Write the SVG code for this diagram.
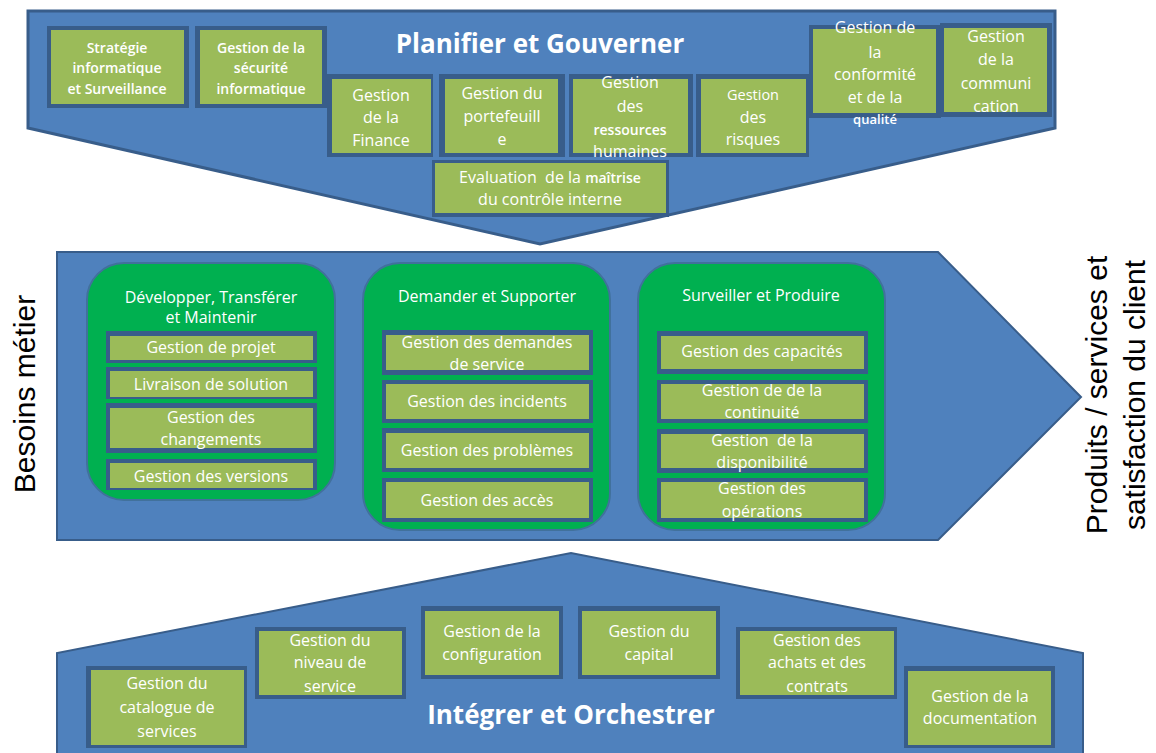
<svg xmlns="http://www.w3.org/2000/svg" width="1156" height="753" viewBox="0 0 1156 753">
<style>
.band{fill:#4F81BD;stroke:#385D8A;stroke-width:2}
.bandtop{fill:#4F81BD;stroke:#385D8A;stroke-width:3}
.frame{fill:#385D8A}
.cell{fill:#9BBB59}
.pill{fill:#00B050;stroke:#41719C;stroke-width:2}
text{font-family:"Open Sans","Noto Sans",sans-serif;fill:#FFFFFF;text-anchor:middle;font-size:16px}
.s{font-size:14px;font-weight:600}
.xs{font-size:13px;font-weight:600}
.m{font-size:14.5px}
.h{font-size:26px;font-weight:700}
.pre{white-space:pre}
.side{font-family:"Liberation Sans",Arial,sans-serif;font-size:30px;fill:#000000}
</style>
<rect width="1156" height="753" fill="#FFFFFF"/>

<g id="band-top">
<polygon class="bandtop" points="28,11 1055,11 1055,128 540,244 28,128"/>
<text class="h" x="540" y="53">Planifier et Gouverner</text>
</g>
<g id="band-middle">
<polygon class="band" points="57,252 938,252 1081,397 938,540 57,540"/>
</g>
<g id="band-bottom">
<polygon class="band" points="57,760 57,653 571,553 1083,653 1083,760"/>
<text class="h" x="571" y="724">Intégrer et Orchestrer</text>
</g>

<g id="strategie">
<rect class="frame" x="47" y="26" width="142" height="82"/>
<rect class="cell" x="51" y="30" width="133" height="74"/>
<text class="s" x="117" y="53">Stratégie</text>
<text class="s" x="117" y="73">informatique</text>
<text class="s" x="117" y="94">et Surveillance</text>
</g>
<g id="securite">
<rect class="frame" x="195" y="26" width="132" height="82"/>
<rect class="cell" x="200" y="30" width="122" height="74"/>
<text class="s" x="261" y="53">Gestion de la</text>
<text class="s" x="261" y="73">sécurité</text>
<text class="s" x="261" y="94">informatique</text>
</g>
<g id="finance">
<rect class="frame" x="327" y="74" width="106" height="83"/>
<rect class="cell" x="332" y="79" width="99" height="74"/>
<text x="381" y="101">Gestion</text>
<text x="381" y="123">de la</text>
<text x="381" y="146">Finance</text>
</g>
<g id="portefeuille">
<rect class="frame" x="439" y="74" width="126" height="83"/>
<rect class="cell" x="445" y="79" width="113" height="74"/>
<text x="502" y="99">Gestion du</text>
<text x="502" y="122">portefeuill</text>
<text x="502" y="145">e</text>
</g>
<g id="ressources">
<rect class="frame" x="569" y="74" width="124" height="83"/>
<rect class="cell" x="573" y="79" width="115" height="74"/>
<text x="630" y="88">Gestion</text>
<text x="630" y="112">des</text>
<text class="s" x="630" y="135">ressources</text>
<text x="630" y="157">humaines</text>
</g>
<g id="risques">
<rect class="frame" x="696" y="74" width="113" height="83"/>
<rect class="cell" x="701" y="79" width="105" height="74"/>
<text class="m" x="753" y="100">Gestion</text>
<text x="753" y="123">des</text>
<text x="753" y="145">risques</text>
</g>
<g id="conformite">
<rect class="frame" x="809" y="25" width="132" height="93"/>
<rect class="cell" x="813" y="29" width="123" height="84"/>
<text x="875" y="33">Gestion de</text>
<text x="875" y="58">la</text>
<text x="875" y="80">conformité</text>
<text x="875" y="103">et de la</text>
<text class="xs" x="875" y="124">qualité</text>
</g>
<g id="communication">
<rect class="frame" x="940" y="23" width="112" height="94"/>
<rect class="cell" x="944" y="28" width="103" height="84"/>
<text x="996" y="42">Gestion</text>
<text x="996" y="65">de la</text>
<text x="996" y="89">communi</text>
<text x="996" y="112">cation</text>
</g>
<g id="evaluation">
<rect class="frame" x="432" y="160" width="237" height="57"/>
<rect class="cell" x="435" y="163" width="231" height="50"/>
<text class="pre" x="550" y="183">Evaluation  de la <tspan class="s">maîtrise</tspan></text>
<text x="550" y="205">du contrôle interne</text>
</g>

<g id="developper">
<rect class="pill" x="87" y="263" width="248" height="237" rx="37"/>
<text x="211" y="303">Développer, Transférer</text>
<text x="211" y="323">et Maintenir</text>
</g>
<g id="projet">
<rect class="frame" x="106" y="331" width="211" height="32"/>
<rect class="cell" x="110" y="336" width="203" height="24"/>
<text x="211" y="353">Gestion de projet</text>
</g>
<g id="livraison">
<rect class="frame" x="106" y="367" width="211" height="32"/>
<rect class="cell" x="110" y="371" width="203" height="26"/>
<text x="211" y="390">Livraison de solution</text>
</g>
<g id="changements">
<rect class="frame" x="106" y="403" width="211" height="50"/>
<rect class="cell" x="110" y="408" width="203" height="40"/>
<text x="211" y="423">Gestion des</text>
<text x="211" y="445">changements</text>
</g>
<g id="versions">
<rect class="frame" x="106" y="459" width="211" height="31"/>
<rect class="cell" x="110" y="463" width="203" height="25"/>
<text x="211" y="482">Gestion des versions</text>
</g>

<g id="demander">
<rect class="pill" x="363" y="263" width="247" height="267" rx="37"/>
<text x="487" y="302">Demander et Supporter</text>
</g>
<g id="demandes">
<rect class="frame" x="382" y="330" width="211" height="45"/>
<rect class="cell" x="386" y="335" width="203" height="35"/>
<text x="487" y="348">Gestion des demandes</text>
<text x="487" y="370">de service</text>
</g>
<g id="incidents">
<rect class="frame" x="382" y="380" width="211" height="43"/>
<rect class="cell" x="386" y="384" width="203" height="35"/>
<text x="487" y="407">Gestion des incidents</text>
</g>
<g id="problemes">
<rect class="frame" x="382" y="428" width="211" height="44"/>
<rect class="cell" x="386" y="433" width="203" height="35"/>
<text x="487" y="456">Gestion des problèmes</text>
</g>
<g id="acces">
<rect class="frame" x="382" y="478" width="211" height="44"/>
<rect class="cell" x="386" y="482" width="203" height="36"/>
<text x="487" y="506">Gestion des accès</text>
</g>

<g id="surveiller">
<rect class="pill" x="638" y="263" width="247" height="267" rx="37"/>
<text x="761" y="301">Surveiller et Produire</text>
</g>
<g id="capacites">
<rect class="frame" x="657" y="331" width="211" height="43"/>
<rect class="cell" x="661" y="336" width="203" height="33"/>
<text x="762" y="357">Gestion des capacités</text>
</g>
<g id="continuite">
<rect class="frame" x="657" y="380" width="211" height="43"/>
<rect class="cell" x="661" y="384" width="203" height="35"/>
<text x="762" y="396">Gestion de de la</text>
<text x="762" y="418">continuité</text>
</g>
<g id="disponibilite">
<rect class="frame" x="657" y="429" width="211" height="44"/>
<rect class="cell" x="661" y="434" width="203" height="34"/>
<text class="pre" x="762" y="446">Gestion  de la</text>
<text x="762" y="468">disponibilité</text>
</g>
<g id="operations">
<rect class="frame" x="657" y="478" width="211" height="44"/>
<rect class="cell" x="661" y="482" width="203" height="36"/>
<text x="762" y="494">Gestion des</text>
<text x="762" y="517">opérations</text>
</g>

<g id="catalogue">
<rect class="frame" x="86" y="666" width="161" height="82"/>
<rect class="cell" x="91" y="670" width="153" height="75"/>
<text x="167" y="689">Gestion du</text>
<text x="167" y="713">catalogue de</text>
<text x="167" y="737">services</text>
</g>
<g id="niveau">
<rect class="frame" x="255" y="627" width="151" height="72"/>
<rect class="cell" x="259" y="631" width="143" height="64"/>
<text x="330" y="646">Gestion du</text>
<text x="330" y="668">niveau de</text>
<text x="330" y="692">service</text>
</g>
<g id="configuration">
<rect class="frame" x="421" y="606" width="142" height="73"/>
<rect class="cell" x="425" y="611" width="134" height="64"/>
<text x="492" y="637">Gestion de la</text>
<text x="492" y="660">configuration</text>
</g>
<g id="capital">
<rect class="frame" x="578" y="606" width="142" height="73"/>
<rect class="cell" x="582" y="611" width="134" height="64"/>
<text x="649" y="637">Gestion du</text>
<text x="649" y="660">capital</text>
</g>
<g id="achats">
<rect class="frame" x="736" y="627" width="161" height="72"/>
<rect class="cell" x="740" y="631" width="154" height="64"/>
<text x="817" y="646">Gestion des</text>
<text x="817" y="668">achats et des</text>
<text x="817" y="692">contrats</text>
</g>
<g id="documentation">
<rect class="frame" x="904" y="666" width="151" height="82"/>
<rect class="cell" x="908" y="671" width="143" height="74"/>
<text x="980" y="702">Gestion de la</text>
<text x="980" y="724">documentation</text>
</g>

<g id="label-besoins">
<text class="side" transform="translate(35,394) rotate(-90)">Besoins métier</text>
</g>
<g id="label-produits">
<text class="side" transform="translate(1107,395) rotate(-90)">Produits / services et</text>
<text class="side" transform="translate(1145,395) rotate(-90)">satisfaction du client</text>
</g>

<g id="connectors"></g>
</svg>
